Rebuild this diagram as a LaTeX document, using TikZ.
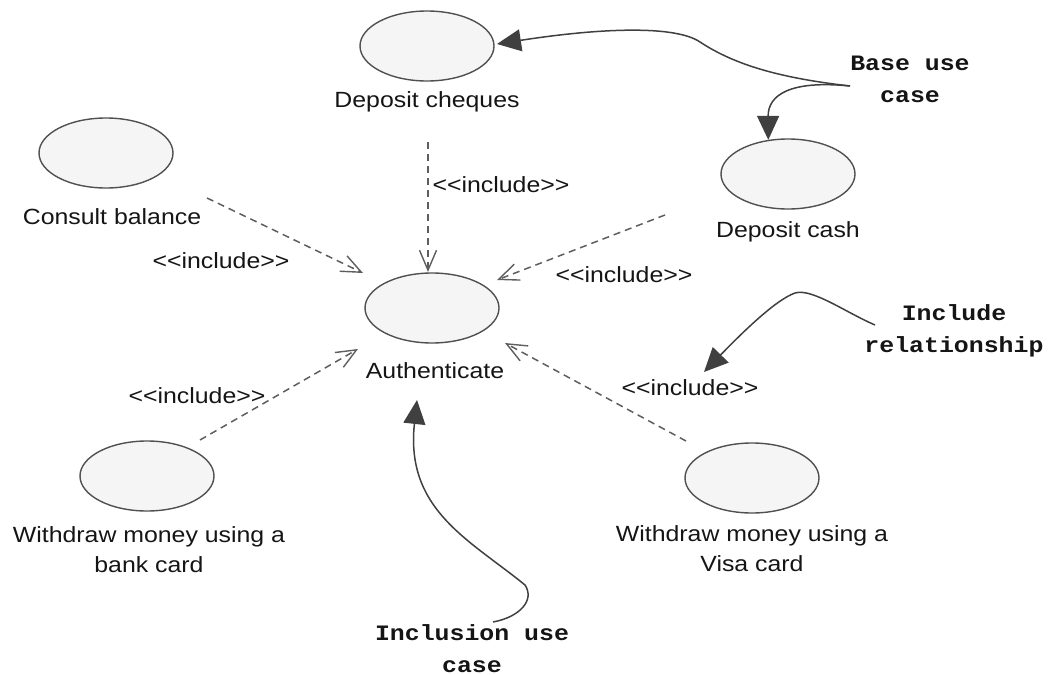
\documentclass[tikz,border=0pt]{standalone}
\usepackage{fontspec}
\setmainfont[FakeStretch=1.13]{Liberation Sans}
\setmonofont[FakeStretch=1.13]{Liberation Mono}
\usetikzlibrary{shapes.geometric,arrows.meta}
\definecolor{txt}{HTML}{151515}
\definecolor{ucline}{HTML}{505050}
\definecolor{ucfill}{HTML}{F5F5F5}
\definecolor{depline}{HTML}{5E5E5E}
\definecolor{callline}{HTML}{404040}
\tikzset{
  uc/.style={ellipse, draw=ucline, fill=ucfill, line width=1.4pt, minimum width=134pt, minimum height=70pt, inner sep=0pt},
  lbl/.style={font=\fontsize{22}{30}\selectfont, text=txt, inner sep=0pt, align=center, anchor=base},
  inc/.style={font=\fontsize{22}{26}\selectfont, text=txt, inner sep=0pt, anchor=base},
  note/.style={font=\ttfamily\bfseries\fontsize{22}{32}\selectfont, text=txt, inner sep=0pt, align=center, anchor=base},
  dep/.style={draw=depline, line width=1.5pt, dash pattern=on 7pt off 5pt, -{Straight Barb[length=20pt,width=17pt,line width=1.4pt]}},
  call/.style={draw=callline, line width=1.5pt, -{Triangle[length=24pt,width=22pt]}}
}
\begin{document}
\begin{tikzpicture}[x=1pt,y=-1pt]
\useasboundingbox (0,0) rectangle (1053,675);
% use cases
\node[uc] (dcq) at (427,46) {};
\node[lbl] (dcqL) at (427,107) {Deposit cheques};
\node[uc] (dca) at (788,174) {};
\node[lbl] (dcaL) at (788,237) {Deposit cash};
\node[uc] (cb) at (106,153) {};
\node[lbl] (cbL) at (112,224) {Consult balance};
\node[uc] (au) at (432,308) {};
\node[lbl] (auL) at (435,378) {Authenticate};
\node[uc] (wb) at (147,476) {};
\node[lbl] (wbL) at (149,572) {Withdraw money using a\\bank card};
\node[uc] (wv) at (752,478) {};
\node[lbl] (wvL) at (752,571) {Withdraw money using a\\Visa card};
% include labels
\node[inc] (i1) at (501,192) {<{}<include>{}>};
\node[inc] (i2) at (221,268) {<{}<include>{}>};
\node[inc] (i3) at (624,282) {<{}<include>{}>};
\node[inc] (i4) at (197,403) {<{}<include>{}>};
\node[inc] (i5) at (690,395) {<{}<include>{}>};
% notes
\node[note] (nb) at (910,102) {Base use\\case};
\node[note] (nr) at (954,352) {Include\\relationship};
\node[note] (ni) at (472,672) {Inclusion use\\case};
% connector end points
\coordinate (c1s) at (428,142); \coordinate (c1e) at (428,272);
\coordinate (c2s) at (207,198); \coordinate (c2e) at (363,273);
\coordinate (c3s) at (665,215); \coordinate (c3e) at (497,280);
\coordinate (c4s) at (200,440); \coordinate (c4e) at (358,349);
\coordinate (c5s) at (686,441); \coordinate (c5e) at (505,343);
\coordinate (bs) at (850,86);
\coordinate (dcqT) at (497,44);
\coordinate (rs) at (875,325);
\coordinate (rT) at (704,372);
\coordinate (is) at (493,622);
\coordinate (iT) at (417,400);
% include dependencies
\draw[dep] (c1s) -- (c1e);
\draw[dep] (c2s) -- (c2e);
\draw[dep] (c3s) -- (c3e);
\draw[dep] (c4s) -- (c4e);
\draw[dep] (c5s) -- (c5e);
% callouts
\draw[call] (bs) .. controls (780,78) and (735,65) .. (700,42) .. controls (675,25) and (600,28) .. (dcqT);
\draw[call] (bs) .. controls (790,80) and (768,95) .. (dca.120);
\draw[call] (rs) .. controls (845,312) and (812,288) .. (795,293) .. controls (775,300) and (740,335) .. (rT);
\draw[call] (is) .. controls (520,617) and (535,600) .. (525,585) .. controls (470,540) and (405,510) .. (iT);
\end{tikzpicture}
\end{document}
